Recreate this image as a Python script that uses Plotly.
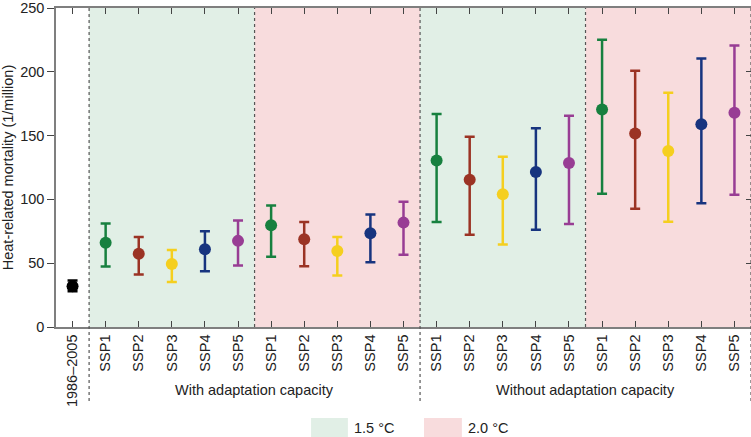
import plotly.graph_objects as go

# ---- data ----
tick_labels = ["1986–2005",
               "SSP1", "SSP2", "SSP3", "SSP4", "SSP5",
               "SSP1", "SSP2", "SSP3", "SSP4", "SSP5",
               "SSP1", "SSP2", "SSP3", "SSP4", "SSP5",
               "SSP1", "SSP2", "SSP3", "SSP4", "SSP5"]
scenarios = ["SSP1", "SSP2", "SSP3", "SSP4", "SSP5"]
groups = ["With adaptation 1.5 °C", "With adaptation 2.0 °C",
          "Without adaptation 1.5 °C", "Without adaptation 2.0 °C"]

baseline_mean = [32]
baseline_low = [28]
baseline_high = [36.5]

# rows: scenarios SSP1..SSP5, columns: groups
mean_vals = {
    "SSP1": [66.0, 79.7, 130.4, 170.5],
    "SSP2": [57.4, 68.8, 115.4, 151.6],
    "SSP3": [49.4, 59.5, 104.0, 137.9],
    "SSP4": [61.0, 73.4, 121.4, 158.9],
    "SSP5": [67.5, 81.8, 128.6, 167.9],
}
low_vals = {
    "SSP1": [47.4, 55.1, 82.3, 104.5],
    "SSP2": [41.1, 47.6, 72.2, 92.6],
    "SSP3": [35.2, 40.4, 64.7, 82.5],
    "SSP4": [43.7, 50.7, 76.3, 97.0],
    "SSP5": [48.1, 56.7, 80.7, 103.7],
}
high_vals = {
    "SSP1": [81.2, 95.2, 166.9, 225.2],
    "SSP2": [70.6, 82.3, 149.1, 200.8],
    "SSP3": [60.3, 70.6, 133.5, 183.5],
    "SSP4": [75.0, 88.2, 155.7, 210.4],
    "SSP5": [83.5, 98.1, 165.6, 220.7],
}
colors = {"SSP1": "#17803f", "SSP2": "#9b3324", "SSP3": "#f5cf1f",
          "SSP4": "#17347f", "SSP5": "#983d94"}
group_titles = ["With adaptation capacity", "Without adaptation capacity"]
legend_labels = ["1.5 °C", "2.0 °C"]
shade_colors = ["#e1efe6", "#f8dcdd"]

FONT = "Liberation Sans, Arial, Helvetica, sans-serif"
FS = 14.5

fig = go.Figure()

# baseline
fig.add_trace(go.Scatter(
    x=[0], y=baseline_mean, mode="markers",
    marker=dict(color="black", size=12),
    error_y=dict(type="data", symmetric=False,
                 array=[h - m for h, m in zip(baseline_high, baseline_mean)],
                 arrayminus=[m - l for l, m in zip(baseline_low, baseline_mean)],
                 color="black", thickness=2.5, width=5),
    showlegend=False, hoverinfo="skip"))

for i, s in enumerate(scenarios):
    xs = [1 + i + 5 * g for g in range(len(groups))]
    m = mean_vals[s]
    lo = low_vals[s]
    hi = high_vals[s]
    fig.add_trace(go.Scatter(
        x=xs, y=m, mode="markers",
        marker=dict(color=colors[s], size=12),
        error_y=dict(type="data", symmetric=False,
                     array=[h - v for h, v in zip(hi, m)],
                     arrayminus=[v - l for l, v in zip(lo, m)],
                     color=colors[s], thickness=2.5, width=5),
        showlegend=False, hoverinfo="skip"))

# invisible trace for the right axis
fig.add_trace(go.Scatter(x=[0], y=[0], yaxis="y2", mode="markers",
                         marker=dict(opacity=0), showlegend=False,
                         hoverinfo="skip"))

shapes = []
# shaded bands
for g in range(4):
    shapes.append(dict(type="rect", xref="x", yref="paper",
                       x0=0.5 + 5 * g, x1=5.5 + 5 * g, y0=0, y1=1,
                       fillcolor=shade_colors[g % 2], line=dict(width=0),
                       layer="below"))
# dashed separators
for g in range(5):
    xv = 0.5 + 5 * g
    long = g % 2 == 0
    shapes.append(dict(type="line", xref="x", yref="paper",
                       x0=xv, x1=xv, y0=-0.232 if long else 0, y1=1,
                       line=dict(color="#555555", width=1.2, dash="3px,3px")))
# legend swatches
leg_x = [(0.367, 0.420), (0.5295, 0.584)]
for k in range(2):
    shapes.append(dict(type="rect", xref="paper", yref="paper",
                       x0=leg_x[k][0], x1=leg_x[k][1], y0=-0.348, y1=-0.285,
                       fillcolor=shade_colors[k], line=dict(width=0)))

annotations = []
for k, t in enumerate(group_titles):
    annotations.append(dict(text=t, xref="x", yref="paper", x=5.5 + 10 * k,
                            y=-0.198, showarrow=False, xanchor="center",
                            yanchor="middle",
                            font=dict(family=FONT, size=FS, color="#222")))
leg_tx = [0.426, 0.590]
for k, t in enumerate(legend_labels):
    annotations.append(dict(text=t, xref="paper", yref="paper", x=leg_tx[k],
                            y=-0.317, showarrow=False, xanchor="left",
                            yanchor="middle",
                            font=dict(family=FONT, size=FS, color="#222")))

axis_line = "#7f7f7f"
fig.update_layout(
    width=751, height=437,
    margin=dict(l=56, r=0, t=8, b=110, autoexpand=False),
    plot_bgcolor="white", paper_bgcolor="white",
    font=dict(family=FONT, size=FS, color="#222"),
    shapes=shapes, annotations=annotations,
    xaxis=dict(range=[-0.5, 20.5], tickmode="array",
               tickvals=list(range(len(tick_labels))), ticktext=tick_labels,
               tickangle=-90, ticks="inside", ticklen=6, tickcolor="#444",
               tickwidth=1.2,
               showline=True, linecolor=axis_line, linewidth=1.5,
               mirror="ticks", showgrid=False, zeroline=False,
               ticklabeloverflow="allow",
               tickfont=dict(family=FONT, size=FS, color="#222")),
    yaxis=dict(range=[0, 250], tickmode="linear", tick0=0, dtick=50,
               ticks="outside", ticklen=7, tickcolor="#444", tickwidth=1.2,
               showline=True, linecolor=axis_line, linewidth=1.5,
               showgrid=False, zeroline=False,
               ticklabeloverflow="allow",
               title=dict(text="Heat-related mortality (1/million)",
                          standoff=6,
                          font=dict(family=FONT, size=FS, color="#222")),
               tickfont=dict(family=FONT, size=FS, color="#222")),
    yaxis2=dict(overlaying="y", side="right", anchor="x", matches="y",
                range=[0, 250], tickmode="linear", tick0=0, dtick=50,
                ticks="inside", ticklen=5, tickcolor="#444", tickwidth=1.2,
                showticklabels=False, showline=True, linecolor=axis_line,
                linewidth=1.5, showgrid=False, zeroline=False),
)

fig.write_html("out.html",
               config={"displayModeBar": False},
               post_script="document.body.style.margin='0px';"
                           "document.body.style.padding='0px';")
